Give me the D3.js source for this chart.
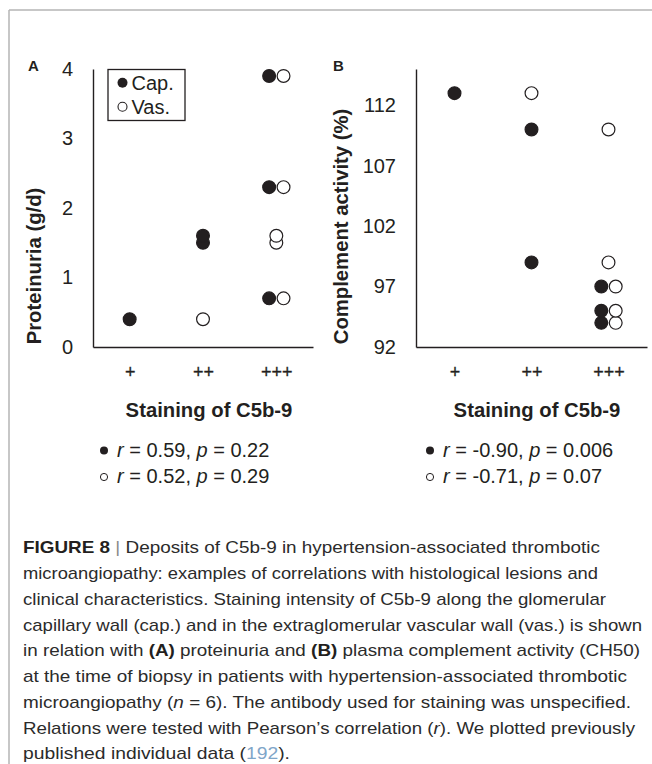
<!DOCTYPE html>
<html>
<head>
<meta charset="utf-8">
<script src="https://cdn.jsdelivr.net/npm/d3@7"></script>
<style>
  html, body { margin: 0; padding: 0; background: #fff; }
  svg { display: block; }
  text { font-family: "Liberation Sans", Arial, Helvetica, sans-serif; }
</style>
</head>
<body>
<svg id="chart" width="652" height="764"></svg>
<script>
// ---------------- data ----------------
const categories = ["+", "++", "+++"];
// staining grade per patient (n = 6)
const capStaining = ["+", "++", "++", "+++", "+++", "+++"];
const vasStaining = ["++", "+++", "+++", "+++", "+++", "+++"];
// panel A: proteinuria (g/d)
const capProteinuria = [0.4, 1.6, 1.5, 3.9, 2.3, 0.7];
const vasProteinuria = [0.4, 1.6, 1.5, 3.9, 2.3, 0.7];
// panel B: complement activity (%)
const capComplement = [113, 110, 99, 97, 95, 94];
const vasComplement = [113, 110, 99, 97, 95, 94];
// axis ticks
const yTicksA = [0, 1, 2, 3, 4];
const yTicksB = [92, 97, 102, 107, 112];
const yDomainA = [0, 4];
const yDomainB = [92, 115];
// correlation stats
const statsA = [{ r: "0.59", p: "0.22" }, { r: "0.52", p: "0.29" }];
const statsB = [{ r: "-0.90", p: "0.006" }, { r: "-0.71", p: "0.07" }];
const legendLabels = ["Cap.", "Vas."];

// caption: lines of [text, style]
const captionLines = [
  [["FIGURE 8", "b"], [" | ", "g"], ["Deposits of C5b-9 in hypertension-associated thrombotic", ""]],
  [["microangiopathy: examples of correlations with histological lesions and", ""]],
  [["clinical characteristics. Staining intensity of C5b-9 along the glomerular", ""]],
  [["capillary wall (cap.) and in the extraglomerular vascular wall (vas.) is shown", ""]],
  [["in relation with ", ""], ["(A)", "b"], [" proteinuria and ", ""], ["(B)", "b"], [" plasma complement activity (CH50)", ""]],
  [["at the time of biopsy in patients with hypertension-associated thrombotic", ""]],
  [["microangiopathy (", ""], ["n", "i"], [" = 6). The antibody used for staining was unspecified.", ""]],
  [["Relations were tested with Pearson\u2019s correlation (", ""], ["r", "i"], ["). We plotted previously", ""]],
  [["published individual data (", ""], ["192", "l"], [").", ""]]
];
const captionEnds = [600, 598, 606, 642, 640, 627, 631, 635, 290];

// ---------------- drawing ----------------
const svg = d3.select("#chart");
const ink = "#231f20";
const FONT = '"Liberation Sans", Arial, sans-serif';

// frame lines
svg.append("line").attr("x1", 9).attr("y1", 10).attr("x2", 652).attr("y2", 10)
  .attr("stroke", "#b4b4b4").attr("stroke-width", 1.5);
svg.append("line").attr("x1", 9).attr("y1", 10).attr("x2", 9).attr("y2", 764)
  .attr("stroke", "#b4b4b4").attr("stroke-width", 1.5);

const yTop = 69, yBottom = 347;

const panels = [
  { label: "A", labelX: 28, x0: 93, x1: 313, yDomain: yDomainA, ticks: yTicksA,
    cap: capProteinuria, vas: vasProteinuria, title: "Proteinuria (g/d)",
    titleX: 41, titleY: 266, stats: statsA, statX: 100, xTitleX: 209, legend: true },
  { label: "B", labelX: 333, x0: 416, x1: 647, yDomain: yDomainB, ticks: yTicksB,
    cap: capComplement, vas: vasComplement, title: "Complement activity (%)",
    titleX: 348, titleY: 226.5, stats: statsB, statX: 426, xTitleX: 537, legend: false }
];

panels.forEach(p => {
  const g = svg.append("g");
  const x = d3.scalePoint().domain(categories).range([p.x0, p.x1]).padding(0.5);
  const y = d3.scaleLinear().domain(p.yDomain).range([yBottom, yTop]);

  // axes
  const yAxis = g.append("g").attr("transform", `translate(${p.x0},0)`)
    .call(d3.axisLeft(y).tickValues(p.ticks).tickFormat(d3.format("d"))
      .tickSize(0).tickSizeOuter(0).tickPadding(20));
  yAxis.attr("font-family", FONT).attr("font-size", 20);
  yAxis.select(".domain").attr("stroke", ink).attr("stroke-width", 1.4);
  yAxis.selectAll("text").attr("fill", ink);

  const xAxis = g.append("g").attr("transform", `translate(0,${yBottom})`)
    .call(d3.axisBottom(x).tickSize(0).tickSizeOuter(0).tickPadding(18));
  xAxis.attr("font-family", FONT).attr("font-size", 18);
  xAxis.select(".domain").attr("stroke", ink).attr("stroke-width", 1.4);
  xAxis.selectAll("text").attr("fill", ink).attr("stroke", ink).attr("stroke-width", 0.3);

  // panel letter
  g.append("text").attr("x", p.labelX).attr("y", 70.5).attr("font-size", 15)
    .attr("font-weight", "bold").attr("fill", ink).text(p.label);

  // y title
  g.append("text")
    .attr("transform", `translate(${p.titleX},${p.titleY}) rotate(-90)`)
    .attr("text-anchor", "middle").attr("font-size", 20.3).attr("font-weight", "bold")
    .attr("fill", ink).text(p.title);

  // x title
  g.append("text").attr("x", p.xTitleX).attr("y", 416.5).attr("text-anchor", "middle")
    .attr("font-size", 20.3).attr("font-weight", "bold").attr("fill", ink)
    .text("Staining of C5b-9");

  // points
  const pts = [];
  p.cap.forEach((v, i) => pts.push({ s: "cap", cat: capStaining[i], v }));
  p.vas.forEach((v, i) => pts.push({ s: "vas", cat: vasStaining[i], v }));
  const key = d => d.cat + "|" + d.v;
  const capKeys = new Set(pts.filter(d => d.s === "cap").map(key));
  const vasKeys = new Set(pts.filter(d => d.s === "vas").map(key));
  pts.forEach(d => {
    const shared = d.s === "cap" ? vasKeys.has(key(d)) : capKeys.has(key(d));
    d.dx = shared ? (d.s === "cap" ? -7.2 : 7.2) : 0;
  });
  pts.sort((a, b) => a.v - b.v);
  g.selectAll("circle.pt").data(pts).join("circle")
    .attr("class", "pt")
    .attr("cx", d => x(d.cat) + d.dx)
    .attr("cy", d => y(d.v))
    .attr("r", 6.4)
    .attr("fill", d => d.s === "cap" ? ink : "#fff")
    .attr("stroke", ink).attr("stroke-width", 1.2);

  // stats lines
  p.stats.forEach((st, i) => {
    const by = 456.7 + i * 26.6;
    g.append("circle").attr("cx", p.statX + 4).attr("cy", by - 6.3)
      .attr("r", i === 0 ? 4 : 3.6)
      .attr("fill", i === 0 ? ink : "#fff").attr("stroke", ink).attr("stroke-width", i === 0 ? 0 : 1);
    const t = g.append("text").attr("x", p.statX + 17).attr("y", by)
      .attr("font-size", 20).attr("fill", ink);
    t.append("tspan").attr("font-style", "italic").text("r");
    t.append("tspan").text(" = " + st.r + ", ");
    t.append("tspan").attr("font-style", "italic").text("p");
    t.append("tspan").text(" = " + st.p);
  });

  // legend
  if (p.legend) {
    const lg = g.append("g");
    lg.append("rect").attr("x", 108).attr("y", 69.5).attr("width", 77).attr("height", 51)
      .attr("fill", "#fff").attr("stroke", ink).attr("stroke-width", 1.3);
    legendLabels.forEach((lab, i) => {
      const cy = 82.8 + i * 24;
      lg.append("circle").attr("cx", 122.5).attr("cy", cy).attr("r", i === 0 ? 5 : 4.5)
        .attr("fill", i === 0 ? ink : "#fff").attr("stroke", ink).attr("stroke-width", i === 0 ? 0 : 1.1);
      lg.append("text").attr("x", 131.5).attr("y", cy + 7).attr("font-size", 20)
        .attr("fill", ink).text(lab);
    });
  }
});

// caption
const capStart = 23;
captionLines.forEach((segs, i) => {
  const t = svg.append("text").attr("x", capStart).attr("y", 553.3 + i * 25.75)
    .attr("font-size", 17).attr("fill", "#2b2b2b")
    .attr("textLength", captionEnds[i] - capStart).attr("lengthAdjust", "spacingAndGlyphs");
  segs.forEach(([txt, st]) => {
    const ts = t.append("tspan").text(txt);
    if (st === "b") ts.attr("font-weight", "bold").attr("fill", "#231f20");
    if (st === "g") ts.attr("fill", "#8a8a8a");
    if (st === "i") ts.attr("font-style", "italic");
    if (st === "l") ts.attr("fill", "#7fa6c9");
  });
});
</script>
</body>
</html>
